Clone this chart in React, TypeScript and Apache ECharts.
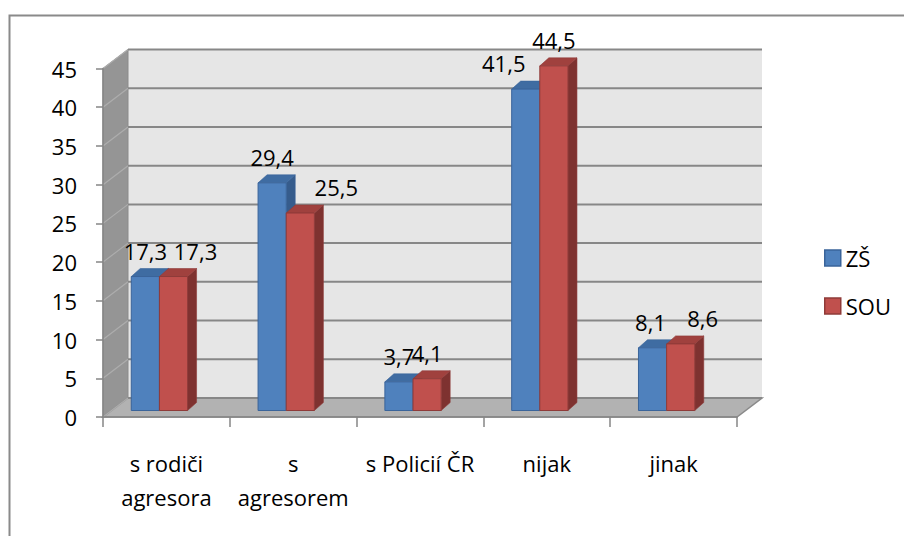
import React, { useEffect, useRef } from "react";
import * as echarts from "echarts";

const categories = ["s rodiči\nagresora", "s\nagresorem", "s Policií ČR", "nijak", "jinak"];
const seriesNames = ["ZŠ", "SOU"];
const zsValues = [17.3, 29.4, 3.7, 41.5, 8.1];
const souValues = [17.3, 25.5, 4.1, 44.5, 8.6];
const yTicks = [0, 5, 10, 15, 20, 25, 30, 35, 40, 45];

// label nudges (style only), Excel moved some labels sideways
const labelShiftZS = [0, 0, 0, -22, -2];
const labelShiftSOU = [22, 36, 0, 0, 22];

const FONT = "'Open Sans', 'DejaVu Sans', sans-serif";
const WALL_DX = 25;
const WALL_DY = -19;
const BAR_DX = 9;
const BAR_DY = -8;
const BAR_LIFT = 6.5;

const palette = [
  { front: "#4F81BD", top: "#3F6CA2", side: "#365C8C", stroke: "#3A649A" },
  { front: "#C0504D", top: "#A0413E", side: "#7E3230", stroke: "#8F3B39" },
];

const fmt = (v: number) => v.toFixed(1).replace(".", ",");

function barRenderer(sIdx: number, shifts: number[]) {
  return (params: any, api: any) => {
    const i = api.value(0);
    const v = api.value(1);
    const base = api.coord([i, 0]);
    const topP = api.coord([i, v]);
    const band = api.size([1, 0])[0];
    const bw = band * 0.222;
    const groupC = base[0] - band * 0.055;
    const x0 = groupC - bw + sIdx * bw;
    const x1 = x0 + bw;
    const yb = base[1] - BAR_LIFT;
    const yt = topP[1] - BAR_LIFT;
    const c = palette[sIdx];
    return {
      type: "group",
      children: [
        {
          type: "polygon",
          shape: { points: [[x1, yt], [x1 + BAR_DX, yt + BAR_DY], [x1 + BAR_DX, yb + BAR_DY], [x1, yb]] },
          style: { fill: c.side, stroke: c.stroke, lineWidth: 0.6 },
        },
        {
          type: "polygon",
          shape: { points: [[x0, yt], [x1, yt], [x1 + BAR_DX, yt + BAR_DY], [x0 + BAR_DX, yt + BAR_DY]] },
          style: { fill: c.top, stroke: c.stroke, lineWidth: 0.6 },
        },
        {
          type: "rect",
          shape: { x: x0, y: yt, width: bw, height: yb - yt },
          style: { fill: c.front, stroke: c.stroke, lineWidth: 1 },
        },
        {
          type: "text",
          z2: 50,
          style: {
            text: fmt(v),
            x: x0 + bw / 2 + shifts[i],
            y: yt - 26,
            align: "center",
            verticalAlign: "middle",
            fill: "#000",
            fontSize: 22,
            fontFamily: FONT,
          },
        },
      ],
    };
  };
}

export default function App() {
  const ref = useRef<HTMLDivElement>(null);
  useEffect(() => {
    if (!ref.current) return;
    const chart = echarts.init(ref.current, undefined, { renderer: "svg" });
    const option: any = {
      animation: false,
      backgroundColor: "#ffffff",
      graphic: [
        {
          type: "rect",
          left: 7,
          top: 13,
          shape: { x: 0, y: 0, width: 1200, height: 900 },
          style: { fill: "none", stroke: "#8A8A8A", lineWidth: 2 },
          silent: true,
          z: -10,
        },
      ],
      grid: { left: 103, right: 167, top: 68.5, bottom: 119, containLabel: false },
      legend: {
        orient: "vertical",
        left: 819,
        top: 242,
        icon: "rect",
        itemWidth: 16,
        itemHeight: 16,
        itemGap: 26,
        textStyle: { fontSize: 22, fontFamily: FONT, color: "#000", lineHeight: 22 },
        data: [
          { name: seriesNames[0], itemStyle: { color: palette[0].front, borderColor: palette[0].stroke, borderWidth: 1.5 } },
          { name: seriesNames[1], itemStyle: { color: palette[1].front, borderColor: palette[1].stroke, borderWidth: 1.5 } },
        ],
      },
      xAxis: {
        type: "category",
        data: categories,
        z: 3,
        axisLine: { show: true, lineStyle: { color: "#868686", width: 1.5 } },
        axisTick: { show: true, length: 10, interval: 0, lineStyle: { color: "#868686", width: 1.5 } },
        axisLabel: { interval: 0, fontSize: 22, fontFamily: FONT, color: "#000", lineHeight: 34, margin: 29 },
        splitLine: { show: false },
      },
      yAxis: {
        type: "value",
        min: 0,
        max: 45,
        interval: 5,
        z: 3,
        axisLine: { show: true, lineStyle: { color: "#868686", width: 1.5 } },
        axisTick: { show: true, length: 7, lineStyle: { color: "#868686", width: 1.5 } },
        axisLabel: { fontSize: 22, fontFamily: FONT, color: "#000", margin: 26 },
        splitLine: { show: false },
      },
      series: [
        {
          type: "custom",
          name: "walls",
          z: 1,
          silent: true,
          data: [[0, 0]],
          renderItem: (params: any) => {
            const cs = params.coordSys;
            const l = cs.x, r = cs.x + cs.width, t = cs.y, b = cs.y + cs.height;
            return {
              type: "group",
              children: [
                {
                  type: "rect",
                  shape: { x: l + WALL_DX, y: t + WALL_DY, width: r - l, height: b - t },
                  style: { fill: "#E6E6E6", stroke: null },
                },
                {
                  type: "polygon",
                  shape: { points: [[l, t], [l + WALL_DX, t + WALL_DY], [l + WALL_DX, b + WALL_DY], [l, b]] },
                  style: { fill: "#959595", stroke: "#8A8A8A", lineWidth: 1 },
                },
                {
                  type: "polygon",
                  shape: { points: [[l, b], [r, b], [r + WALL_DX, b + WALL_DY], [l + WALL_DX, b + WALL_DY]] },
                  style: { fill: "#B2B2B2", stroke: "#8A8A8A", lineWidth: 1.5 },
                },
              ],
            };
          },
        },
        {
          type: "custom",
          name: "gridlines",
          z: 1,
          silent: true,
          data: yTicks.map((t) => [0, t]),
          renderItem: (params: any, api: any) => {
            const cs = params.coordSys;
            const l = cs.x, r = cs.x + cs.width;
            const y = api.coord([0, api.value(1)])[1];
            return {
              type: "group",
              children: [
                {
                  type: "line",
                  shape: { x1: l, y1: y, x2: l + WALL_DX, y2: y + WALL_DY },
                  style: { stroke: "#ADADAD", lineWidth: 1.2 },
                },
                {
                  type: "line",
                  shape: { x1: l + WALL_DX, y1: y + WALL_DY, x2: r + WALL_DX, y2: y + WALL_DY },
                  style: { stroke: "#878787", lineWidth: 2 },
                },
              ],
            };
          },
        },
        {
          type: "custom",
          name: seriesNames[0],
          z: 2,
          itemStyle: { color: palette[0].front },
          data: zsValues.map((v, i) => [i, v]),
          renderItem: barRenderer(0, labelShiftZS),
        },
        {
          type: "custom",
          name: seriesNames[1],
          z: 2,
          itemStyle: { color: palette[1].front },
          data: souValues.map((v, i) => [i, v]),
          renderItem: barRenderer(1, labelShiftSOU),
        },
      ],
    };
    chart.setOption(option);
    return () => chart.dispose();
  }, []);
  return (
    <div
      ref={ref}
      style={{ position: "fixed", left: 0, top: 0, width: 904, height: 536, background: "#fff" }}
    />
  );
}
